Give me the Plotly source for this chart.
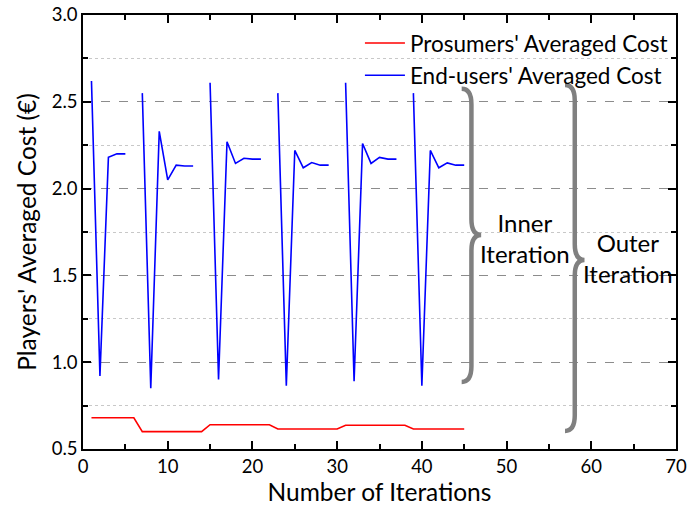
import plotly.graph_objects as go

# iteration index (outer iterations separated by gaps in the end-user curve)
iterations = list(range(1, 46))

prosumer_cost = [0.68] * 6 + [0.60] * 8 + [0.64] * 8 + [0.615] * 8 + [0.637] * 8 + [0.615] * 7

enduser_cost = [
    2.62, 0.92, 2.18, 2.20, 2.20, None,
    2.55, 0.85, 2.33, 2.05, 2.135, 2.13, 2.13, None,
    2.61, 0.90, 2.27, 2.145, 2.175, 2.17, 2.17, None,
    2.55, 0.865, 2.22, 2.12, 2.15, 2.135, 2.135, None,
    2.61, 0.89, 2.26, 2.145, 2.18, 2.17, 2.17, None,
    2.55, 0.865, 2.22, 2.12, 2.148, 2.135, 2.135,
]

FONT = "Lato"
GREY = "#808080"

fig = go.Figure()

fig.add_trace(go.Scatter(
    x=iterations, y=prosumer_cost, mode="lines",
    line=dict(color="#ff0000", width=1.6),
    name="Prosumers' Averaged Cost"
))
fig.add_trace(go.Scatter(
    x=iterations, y=enduser_cost, mode="lines",
    line=dict(color="#0000ff", width=1.6),
    connectgaps=False,
    name="End-users' Averaged Cost"
))


def brace(x0, x1, y_top, y_bot, y_tip, d):
    """curly brace opening left, tip pointing right"""
    xm = (x0 + x1) / 2
    return (f"M {x0},{y_top} Q {xm},{y_top} {xm},{y_top - d} "
            f"L {xm},{y_tip + d} Q {xm},{y_tip} {x1},{y_tip} "
            f"Q {xm},{y_tip} {xm},{y_tip - d} "
            f"L {xm},{y_bot + d} Q {xm},{y_bot} {x0},{y_bot}")


fig.add_shape(type="path", path=brace(44.7, 47.0, 2.575, 0.886, 1.733, 0.09),
              line=dict(color=GREY, width=4.5), layer="above")
fig.add_shape(type="path", path=brace(56.9, 59.2, 2.597, 0.604, 1.589, 0.09),
              line=dict(color=GREY, width=4.5), layer="above")

fig.add_annotation(x=52.2, y=1.715, text="Inner<br>Iteration", showarrow=False,
                   font=dict(family=FONT, size=24, color="black"))
fig.add_annotation(x=64.3, y=1.60, text="Outer<br>Iteration", showarrow=False,
                   font=dict(family=FONT, size=24, color="black"))

axis_common = dict(
    showline=True, linecolor="black", linewidth=1.5, mirror="ticks",
    ticks="inside", ticklen=8, tickwidth=1.5, tickcolor="black",
    zeroline=False, automargin=False, ticklabeloverflow="allow",
    tickfont=dict(family=FONT, size=18.5, color="black"),
)

fig.update_xaxes(
    range=[0, 70], dtick=10, showgrid=False,
    title=dict(text="Number of Iterations", font=dict(family=FONT, size=24.5, color="black"), standoff=6),
    minor=dict(dtick=5, ticks="inside", ticklen=5, tickcolor="black", tickwidth=1.5),
    **axis_common
)
fig.update_yaxes(
    range=[0.5, 3.0], dtick=0.5, tickformat=".1f",
    showgrid=True, gridcolor="#8c8c8c", griddash="dash", gridwidth=1,
    title=dict(text="Players' Averaged Cost (€)", font=dict(family=FONT, size=24.5, color="black"), standoff=8),
    minor=dict(dtick=0.25, ticks="inside", ticklen=5, tickcolor="black", tickwidth=1.5,
               showgrid=True, gridcolor="#c8c8c8", griddash="dot", gridwidth=1),
    **axis_common
)

fig.update_layout(
    width=687, height=517,
    margin=dict(l=83, r=11, t=15, b=68),
    plot_bgcolor="white", paper_bgcolor="white",
    font=dict(family=FONT, size=19, color="black"),
    legend=dict(x=0.467, y=0.984, xanchor="left", yanchor="top",
                bgcolor="rgba(0,0,0,0)", font=dict(family=FONT, size=22.5),
                tracegroupgap=0, itemwidth=40),
    showlegend=True,
)

# drop the browser's default body margin so the figure sits at the page origin
fig.write_html("out.html", config={"displayModeBar": False},
               post_script="document.body.style.margin='0';")
